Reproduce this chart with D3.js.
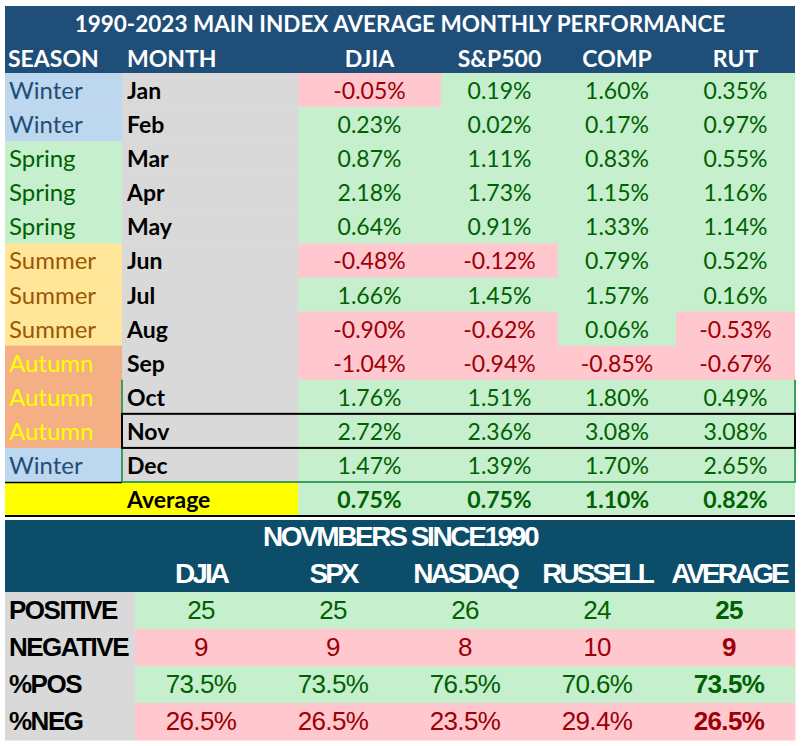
<!DOCTYPE html>
<html><head><meta charset="utf-8">
<script src="https://cdn.jsdelivr.net/npm/d3@7"></script>
<style>html,body{margin:0;padding:0;background:#fff;}</style>
</head><body><div id="chart"></div>
<script>
// ---- data ----
const title = "1990-2023 MAIN INDEX AVERAGE MONTHLY PERFORMANCE";
const headers = ["SEASON", "MONTH"];
const indexNames = ["DJIA", "S&P500", "COMP", "RUT"];
const seasons = ["Winter","Winter","Spring","Spring","Spring","Summer","Summer","Summer","Autumn","Autumn","Autumn","Winter"];
const months = ["Jan","Feb","Mar","Apr","May","Jun","Jul","Aug","Sep","Oct","Nov","Dec"];
const djia  = [-0.05, 0.23, 0.87, 2.18, 0.64, -0.48, 1.66, -0.90, -1.04, 1.76, 2.72, 1.47];
const sp500 = [0.19, 0.02, 1.11, 1.73, 0.91, -0.12, 1.45, -0.62, -0.94, 1.51, 2.36, 1.39];
const comp  = [1.60, 0.17, 0.83, 1.15, 1.33, 0.79, 1.57, 0.06, -0.85, 1.80, 3.08, 1.70];
const rut   = [0.35, 0.97, 0.55, 1.16, 1.14, 0.52, 0.16, -0.53, -0.67, 0.49, 3.08, 2.65];
const averageLabel = "Average";
const averages = [0.75, 0.75, 1.10, 0.82];

const novTitle = "NOVMBERS SINCE1990";
const novCols = ["DJIA", "SPX", "NASDAQ", "RUSSELL", "AVERAGE"];
const novRows = ["POSITIVE", "NEGATIVE", "%POS", "%NEG"];
const novPositive = [25, 25, 26, 24, 25];
const novNegative = [9, 9, 8, 10, 9];
const novPctPos = [73.5, 73.5, 76.5, 70.6, 73.5];
const novPctNeg = [26.5, 26.5, 23.5, 29.4, 26.5];

// ---- styles ----
const C = {
  head: "#1F4E78", head2: "#0C4D6A", gray: "#D9D9D9",
  green: "#C6EFCE", greenText: "#006100", pink: "#FFC7CE", redText: "#9C0006",
  yellow: "#FFFF00", border: "#3C9E5E"
};
const seasonStyle = {
  Winter: {bg: "#BDD7EE", fg: "#1F4E79"},
  Spring: {bg: "#C6EFCE", fg: "#006100"},
  Summer: {bg: "#FFE699", fg: "#9C5700"},
  Autumn: {bg: "#F4B084", fg: "#FFFF00"}
};
const topFont = "Lato, 'Open Sans', sans-serif";
const botFont = "'Liberation Sans', Arial, sans-serif";

const W = 803, H = 746;
const svg = d3.select("#chart").append("svg").attr("width", W).attr("height", H)
  .style("display","block").style("background","#fff");

const X0 = 5, X1 = 795, xSeasonEnd = 122, xMonthEnd = 298;
const yTitle = 6, yHead = 40, yBody = 73, yBodyEnd = 482, yAvgEnd = 516;

const y = d3.scaleBand().domain(months).range([yBody, yBodyEnd]);
const xCol = d3.scaleOrdinal().domain(indexNames).range([298, 441, 558, 676]);
const xColEnd = d3.scaleOrdinal().domain(indexNames).range([441, 558, 676, 795]);
const series = [djia, sp500, comp, rut];
const fmt = v => v.toFixed(2) + "%";

const g = svg.append("g");

// header block
g.append("rect").attr("x", X0).attr("y", yTitle).attr("width", X1 - X0).attr("height", yBody - yTitle).attr("fill", C.head);
g.append("text").attr("x", (X0 + X1) / 2).attr("y", yTitle + 26).attr("text-anchor", "middle")
  .attr("font-family", topFont).attr("font-weight", 700).attr("font-size", 22.5).attr("fill", "#fff").text(title);
g.append("text").attr("x", 8).attr("y", yHead + 27).attr("font-family", topFont).attr("font-weight", 700)
  .attr("font-size", 23).attr("fill", "#fff").text(headers[0]);
g.append("text").attr("x", 127).attr("y", yHead + 27).attr("font-family", topFont).attr("font-weight", 700)
  .attr("font-size", 23).attr("fill", "#fff").text(headers[1]);
g.selectAll("text.colhead").data(indexNames).join("text").attr("class", "colhead")
  .attr("x", d => (xCol(d) + xColEnd(d)) / 2).attr("y", yHead + 27).attr("text-anchor", "middle")
  .attr("font-family", topFont).attr("font-weight", 700).attr("font-size", 23).attr("fill", "#fff").text(d => d);

// rows
const rows = g.selectAll("g.row").data(months.map((m, i) => ({m, i, s: seasons[i]}))).join("g").attr("class", "row");
rows.append("rect").attr("x", X0).attr("y", d => y(d.m)).attr("width", xSeasonEnd - X0).attr("height", y.bandwidth() + 0.5)
  .attr("fill", d => seasonStyle[d.s].bg);
rows.append("rect").attr("x", xSeasonEnd).attr("y", d => y(d.m)).attr("width", xMonthEnd - xSeasonEnd).attr("height", y.bandwidth() + 0.5)
  .attr("fill", C.gray);
rows.append("text").attr("x", 9).attr("y", d => y(d.m) + 26).attr("font-family", topFont).attr("font-size", 24)
  .attr("fill", d => seasonStyle[d.s].fg).text(d => d.s);
rows.append("text").attr("x", 127).attr("y", d => y(d.m) + 26).attr("font-family", topFont).attr("font-weight", 700)
  .attr("font-size", 23).attr("fill", "#000").text(d => d.m);

indexNames.forEach((name, k) => {
  const cells = g.selectAll("g.c" + k).data(series[k].map((v, i) => ({v, m: months[i]}))).join("g").attr("class", "c" + k);
  cells.append("rect").attr("x", xCol(name)).attr("y", d => y(d.m)).attr("width", xColEnd(name) - xCol(name))
    .attr("height", y.bandwidth() + 0.5).attr("fill", d => d.v < 0 ? C.pink : C.green);
  cells.append("text").attr("x", (xCol(name) + xColEnd(name)) / 2).attr("y", d => y(d.m) + 26).attr("text-anchor", "middle")
    .attr("font-family", topFont).attr("font-size", 23).attr("fill", d => d.v < 0 ? C.redText : C.greenText).text(d => fmt(d.v));
});

// average row
g.append("rect").attr("x", X0).attr("y", yBodyEnd).attr("width", xMonthEnd - X0).attr("height", yAvgEnd - yBodyEnd).attr("fill", C.yellow);
g.append("text").attr("x", 127).attr("y", yBodyEnd + 26).attr("font-family", topFont).attr("font-weight", 700)
  .attr("font-size", 23).attr("fill", "#000").text(averageLabel);
g.selectAll("g.avg").data(averages.map((v, k) => ({v, name: indexNames[k]}))).join("g").attr("class", "avg")
  .call(s => {
    s.append("rect").attr("x", d => xCol(d.name)).attr("y", yBodyEnd).attr("width", d => xColEnd(d.name) - xCol(d.name))
      .attr("height", yAvgEnd - yBodyEnd).attr("fill", d => d.v < 0 ? C.pink : C.green);
    s.append("text").attr("x", d => (xCol(d.name) + xColEnd(d.name)) / 2).attr("y", yBodyEnd + 26).attr("text-anchor", "middle")
      .attr("font-family", topFont).attr("font-weight", 700).attr("font-size", 23)
      .attr("fill", d => d.v < 0 ? C.redText : C.greenText).text(d => fmt(d.v));
  });

// borders
const yOct = y("Oct"), yNov = y("Nov"), yDec = y("Dec");
g.append("path").attr("d", `M${xSeasonEnd},${yOct}V${yBodyEnd}H${X1}V${yOct}`).attr("fill", "none").attr("stroke", C.border).attr("stroke-width", 2);
g.append("rect").attr("x", xSeasonEnd).attr("y", yNov).attr("width", X1 - xSeasonEnd).attr("height", yDec - yNov)
  .attr("fill", "none").attr("stroke", "#000").attr("stroke-width", 2);
g.append("line").attr("x1", X0).attr("x2", xSeasonEnd).attr("y1", yBodyEnd + 0.5).attr("y2", yBodyEnd + 0.5).attr("stroke", "#000").attr("stroke-width", 1.5);
g.append("line").attr("x1", X0).attr("x2", X1).attr("y1", yAvgEnd).attr("y2", yAvgEnd).attr("stroke", "#000").attr("stroke-width", 2);

// ---- bottom table ----
const b = svg.append("g");
const yB0 = 520, yBHead = 553, yBRows = 592, yBEnd = 740, xBLabel = 135;
const by = d3.scaleBand().domain(novRows).range([yBRows, yBEnd]);
const bx = d3.scaleBand().domain(novCols).range([xBLabel, X1]);
const novData = [novPositive, novNegative, novPctPos, novPctNeg];
const isPos = [true, false, true, false];
const bfmt = (v, r) => r >= 2 ? v.toFixed(1) + "%" : String(v);

b.append("rect").attr("x", X0).attr("y", yB0).attr("width", X1 - X0).attr("height", yBRows - yB0).attr("fill", C.head2);
b.append("text").attr("x", (X0 + X1) / 2).attr("y", yB0 + 26).attr("text-anchor", "middle")
  .attr("font-family", botFont).attr("font-weight", 700).attr("font-size", 28).attr("letter-spacing", -2.4)
  .attr("fill", "#fff").text(novTitle);
b.selectAll("text.bh").data(novCols).join("text").attr("class", "bh")
  .attr("x", d => bx(d) + bx.bandwidth() / 2).attr("y", yBHead + 30).attr("text-anchor", "middle")
  .attr("font-family", botFont).attr("font-weight", 700).attr("font-size", 28).attr("letter-spacing", -3)
  .attr("fill", "#fff").text(d => d);

novRows.forEach((r, ri) => {
  b.append("rect").attr("x", X0).attr("y", by(r)).attr("width", xBLabel - X0).attr("height", by.bandwidth() + 0.5).attr("fill", C.gray);
  b.append("text").attr("x", 9).attr("y", by(r) + 27).attr("font-family", botFont).attr("font-weight", 700)
    .attr("font-size", 26).attr("letter-spacing", -1.5).attr("fill", "#000").text(r);
  const cells = b.selectAll("g.r" + ri).data(novData[ri].map((v, ci) => ({v, c: novCols[ci], ci}))).join("g").attr("class", "r" + ri);
  cells.append("rect").attr("x", d => bx(d.c)).attr("y", by(r)).attr("width", bx.bandwidth() + 0.5).attr("height", by.bandwidth() + 0.5)
    .attr("fill", isPos[ri] ? C.green : C.pink);
  cells.append("text").attr("x", d => bx(d.c) + bx.bandwidth() / 2).attr("y", by(r) + 27).attr("text-anchor", "middle")
    .attr("font-family", botFont).attr("font-size", 26).attr("letter-spacing", -0.6)
    .attr("font-weight", d => d.ci === novCols.length - 1 ? 700 : 400)
    .attr("fill", isPos[ri] ? C.greenText : C.redText).text(d => bfmt(d.v, ri));
});
</script></body></html>
